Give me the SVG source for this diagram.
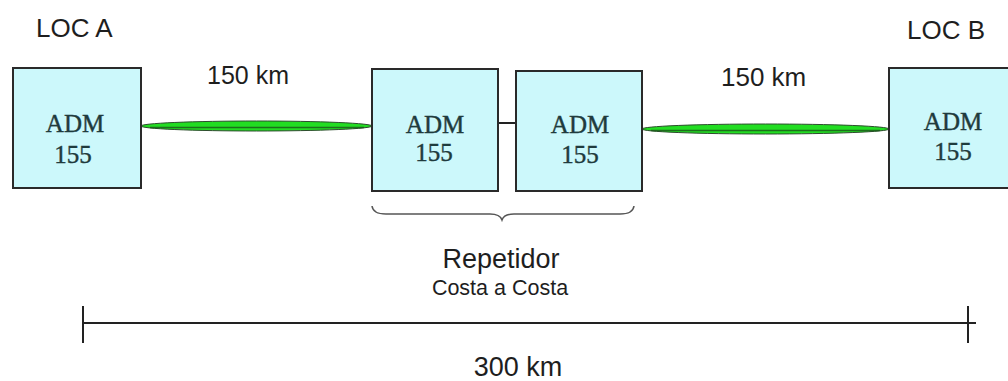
<svg xmlns="http://www.w3.org/2000/svg" width="1008" height="381" viewBox="0 0 1008 381">
<style>
.box{fill:#ccf8fb;stroke:#2a2a2a;stroke-width:2}
.adm{font-family:"Liberation Serif",serif;font-size:25px;fill:#1f3b3d;stroke:#1f3b3d;stroke-width:0.4;text-anchor:middle}
.lbl{font-family:"Liberation Sans",Arial,sans-serif;fill:#1e1e1e}
.fiber{fill:#22dd22;stroke:#2d4d2d;stroke-width:1}
.core{stroke:#1b4a1b;stroke-width:1.5;fill:none;opacity:0.75}
.wire{stroke:#222;stroke-width:2;fill:none}
</style>
<rect width="1008" height="381" fill="#fff"/>
<g id="connectors">
<ellipse class="fiber" cx="256.5" cy="126" rx="115.5" ry="5"/>
<line class="core" x1="150" y1="127.5" x2="364" y2="127.5"/>
<ellipse class="fiber" cx="765.5" cy="129" rx="123.5" ry="5"/>
<line class="core" x1="651" y1="130.5" x2="880" y2="130.5"/>
<line class="wire" x1="498" y1="123" x2="516" y2="123"/>
</g>
<g id="locA">
<rect class="box" x="13" y="68" width="128" height="120"/>
<text class="adm" x="75" y="132">ADM</text>
<text class="adm" x="73" y="163">155</text>
</g>
<g id="rep1">
<rect class="box" x="372" y="69" width="126" height="122"/>
<text class="adm" x="435" y="133">ADM</text>
<text class="adm" x="434" y="161">155</text>
</g>
<g id="rep2">
<rect class="box" x="516" y="71" width="126" height="120"/>
<text class="adm" x="580" y="133">ADM</text>
<text class="adm" x="580" y="163">155</text>
</g>
<g id="locB">
<rect class="box" x="889" y="68" width="130" height="120"/>
<text class="adm" x="953" y="130">ADM</text>
<text class="adm" x="953" y="160">155</text>
</g>
<g id="brace">
<path d="M372,206 Q373,214 386,214 L490,214 Q500,214 502,220 Q504,214 514,214 L620,214 Q633,214 634,206" fill="none" stroke="#555" stroke-width="1.5"/>
</g>
<g id="labels">
<text class="lbl" x="36" y="37" font-size="26">LOC A</text>
<text class="lbl" x="907" y="39" font-size="26">LOC B</text>
<text class="lbl" x="207" y="84" font-size="25">150 km</text>
<text class="lbl" x="721" y="86" font-size="26">150 km</text>
<text class="lbl" x="501" y="268" font-size="27" text-anchor="middle">Repetidor</text>
<text class="lbl" x="500" y="295" font-size="21.5" text-anchor="middle">Costa a Costa</text>
<text class="lbl" x="518" y="376" font-size="27" text-anchor="middle">300 km</text>
</g>
<g id="scale">
<line class="wire" x1="83" y1="323" x2="976" y2="323"/>
<line class="wire" x1="83" y1="306" x2="83" y2="343"/>
<line class="wire" x1="968" y1="306" x2="968" y2="343"/>
</g>
</svg>
